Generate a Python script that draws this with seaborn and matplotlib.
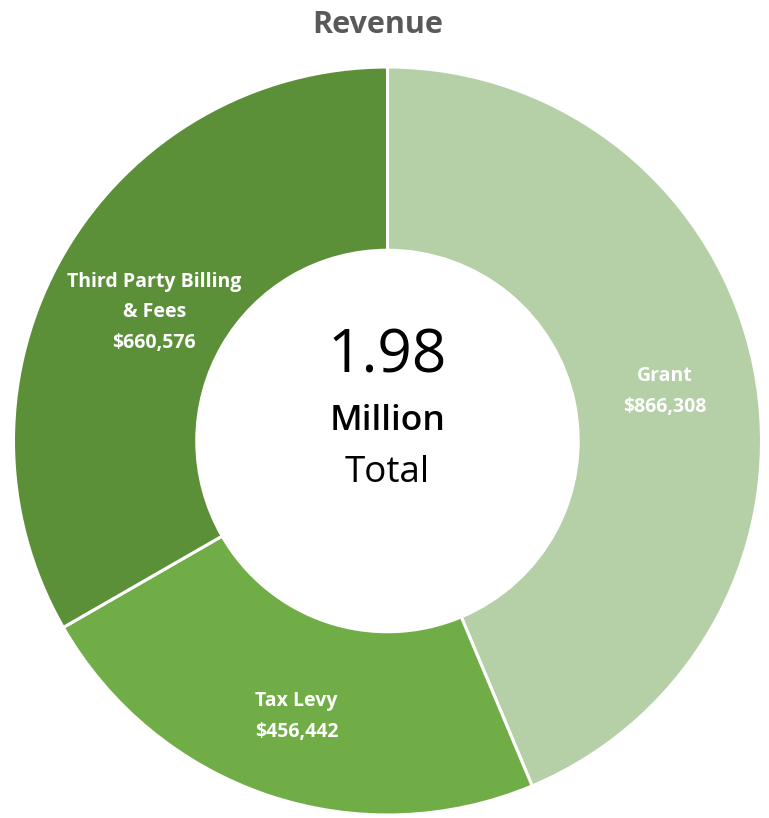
import matplotlib
matplotlib.use("Agg")
import matplotlib.pyplot as plt
import seaborn as sns
import numpy as np

categories = ["Grant", "Tax Levy", "Third Party Billing\n& Fees"]
values = [866308, 456442, 660576]
colors = ["#b5cfa7", "#70ad47", "#5b9038"]
title = "Revenue"
center_lines = ["1.98", "Million", "Total"]

sns.set_theme(style="white")
plt.rcParams['font.family'] = ['Open Sans', 'DejaVu Sans']

W, H = 769, 818
fig = plt.figure(figsize=(W / 100, H / 100), dpi=100)
R = 374
cx, cy = 387.5, 818 - 441
ax = fig.add_axes([(cx - R) / W, (cy - R) / H, 2 * R / W, 2 * R / H])

wedges, _ = ax.pie(values, colors=colors, startangle=90, counterclock=False,
                   radius=1, wedgeprops=dict(width=0.49, edgecolor="white", linewidth=2.2))
ax.set_xlim(-1, 1)
ax.set_ylim(-1, 1)
ax.set_aspect("equal")
ax.axis("off")

label_r = [0.755, 0.76, 0.72]
for w, cat, v, lr in zip(wedges, categories, values, label_r):
    mid = np.deg2rad((w.theta1 + w.theta2) / 2)
    ax.annotate(f"{cat}\n${v:,}", xy=(lr * np.cos(mid), lr * np.sin(mid)),
                xytext=(0, -4.5), textcoords="offset points", ha="center", va="center",
                color="white", fontsize=14, fontweight="bold", linespacing=1.68)

ax.text(0, 0.182, center_lines[0], ha="center", va="baseline", fontsize=43.5, color="black", fontweight="normal")
ax.text(0, 0.029, center_lines[1], ha="center", va="baseline", fontsize=25.5, color="black", fontweight="semibold")
ax.text(0, -0.110, center_lines[2], ha="center", va="baseline", fontsize=26.5, color="black", fontweight="normal")

fig.text(377.5 / W, 1 - 33 / H, title, ha="center", va="baseline", fontsize=22,
         fontweight="bold", color="#595959")

fig.savefig("out.png", dpi=100, facecolor="white")
